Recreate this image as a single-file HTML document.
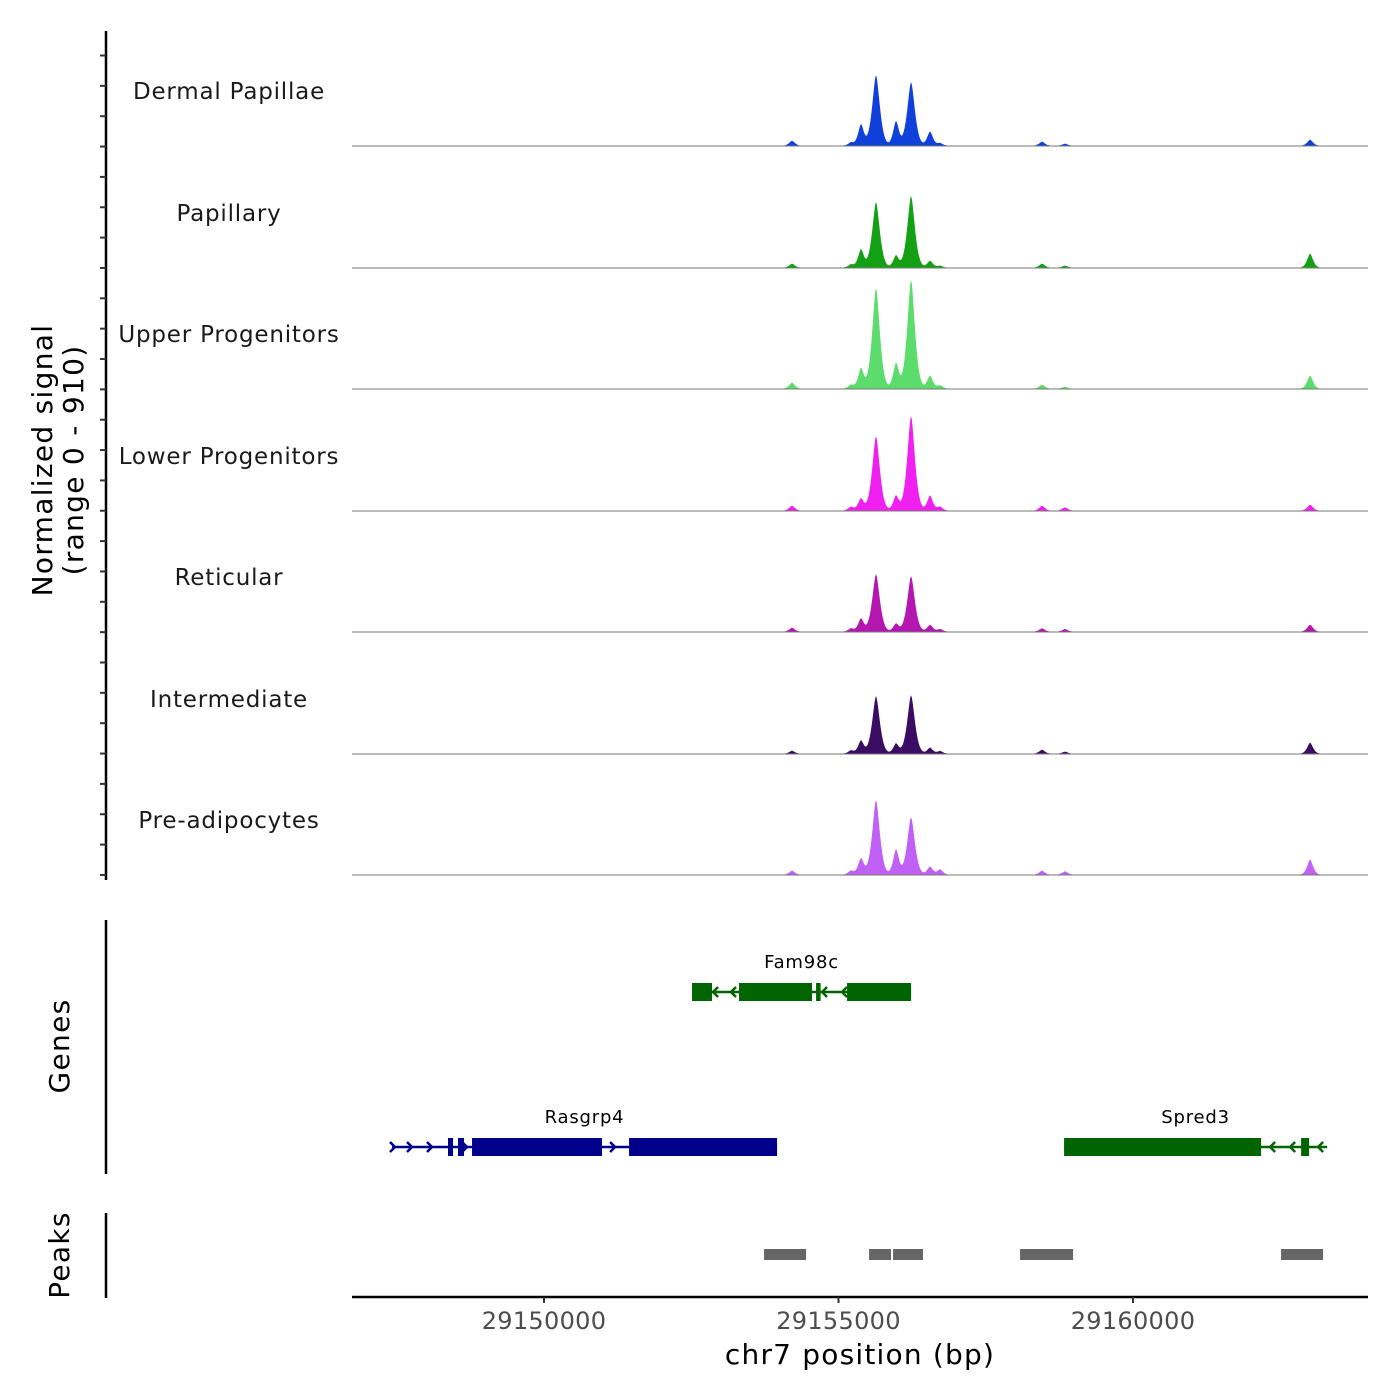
<!DOCTYPE html>
<html><head><meta charset="utf-8"><style>
html,body{margin:0;padding:0;background:#fff;}
svg{display:block;font-family:"DejaVu Sans","Liberation Sans",sans-serif;}
</style></head><body>
<svg id="chart" width="1400" height="1400" viewBox="0 0 1400 1400" xmlns="http://www.w3.org/2000/svg"></svg>
<script>
// ---- data ----
const trackNames = ["Dermal Papillae","Papillary","Upper Progenitors","Lower Progenitors","Reticular","Intermediate","Pre-adipocytes"];
const trackColors = ["#1040dc","#14a014","#5cdc6c","#f020f0","#b416b0","#3a0c62","#c060f4"];
const peakPositions = [29154211,29155213,29155382,29155637,29155977,29156232,29156554,29156724,29158456,29158846,29163007];
const signalDermal = [37,25,157,524,180,472,105,20,30,15,45];
const signalPapillary = [30,25,135,487,90,532,52,15,30,15,105];
const signalUpper = [45,30,150,749,187,809,97,25,30,15,97];
const signalLower = [37,30,90,554,110,704,112,30,37,25,45];
const signalReticular = [30,25,97,427,60,412,52,20,25,20,52];
const signalIntermediate = [22,25,97,427,75,434,45,20,30,15,82];
const signalPreadipo = [30,30,120,554,187,427,60,40,30,25,112];
const trackSignals = [signalDermal,signalPapillary,signalUpper,signalLower,signalReticular,signalIntermediate,signalPreadipo];
const signalMax = 910;
const xTicks = [29150000,29155000,29160000];
const genes = [
  {name:"Fam98c", strand:"-", start:29152513, end:29156232, row:0,
   exons:[[29152513,29152853],[29153311,29154551],[29154619,29154696],[29155145,29156232]],
   arrows:[29152870,29153175,29154721,29155060]},
  {name:"Rasgrp4", strand:"+", start:29147419, end:29153957, row:1,
   exons:[[29148370,29148455],[29148540,29148642],[29148778,29150985],[29151444,29153957]],
   arrows:[29147470,29147759,29148098,29148693,29151206]},
  {name:"Spred3", strand:"-", start:29158830, end:29163296, row:1,
   exons:[[29158830,29162175],[29162854,29162990]],
   arrows:[29162328,29162668,29163143]}
];
const peakStarts = [29153736,29155519,29155926,29158083,29162514];
const peakEnds   = [29154449,29155892,29156435,29158983,29163227];
// ---- scales ----
const X0=352, X1=1368, BP0=29146740, BP1=29163990;
const xs = bp => X0 + (bp-BP0)/(BP1-BP0)*(X1-X0);
const baselines = [146,268,389,511,632,754,875];
const trackH = 121.5;
const ys = (v,i) => baselines[i] - v/signalMax*trackH;
const NS="http://www.w3.org/2000/svg";
const svg=document.getElementById('chart');
function mk(tag,attrs,parent){const e=document.createElementNS(NS,tag);for(const k in attrs)e.setAttribute(k,attrs[k]);(parent||svg).appendChild(e);return e;}
function txt(s,attrs,parent){const e=mk('text',attrs,parent);e.textContent=s;return e;}

// tracks
trackNames.forEach((name,i)=>{
  const g=mk('g',{});
  
  
  const sig=trackSignals[i];
  let d='M'+X0+','+baselines[i];
  for(let px=X0;px<=X1;px+=0.5){
    let v=0;
    peakPositions.forEach((p,k)=>{const dx=Math.abs(px-xs(p));const s=(sig[k]>300)?5.2:4;v+=sig[k]*Math.exp(-Math.pow(dx/s,1.5));});
    d+=' L'+px+','+ys(v,i).toFixed(2);
  }
  d+=' L'+X1+','+baselines[i]+' Z';
  const a=mk('path',{d:d,fill:trackColors[i],stroke:trackColors[i],'stroke-width':0.6},g);
  
  
  const b=mk('line',{x1:X0,x2:X1,y1:baselines[i],y2:baselines[i],stroke:'#777','stroke-width':1},g);
  
  
  const l=txt(name,{x:229,y:baselines[i]-47,'text-anchor':'middle','font-size':23,'letter-spacing':'0.8',fill:'#1a1a1a'},g);
  
  
});

// left axes
const ax=mk('line',{x1:106,x2:106,y1:31,y2:880,stroke:'#000','stroke-width':2.5});


for(let y=55.5;y<880;y+=30.35){
  const t=mk('line',{x1:100,x2:106,y1:y,y2:y,stroke:'#333','stroke-width':2});
  
  
}
const yt=mk('text',{transform:'translate(52,460) rotate(-90)','text-anchor':'middle','font-size':28,'letter-spacing':'1.3',fill:'#000'});


const t1=mk('tspan',{x:0,dy:0},yt);t1.textContent='Normalized signal';
const t2=mk('tspan',{x:0,dy:31},yt);t2.textContent='(range 0 - 910)';

const gax=mk('line',{x1:106,x2:106,y1:920,y2:1174,stroke:'#000','stroke-width':2.5});


const gl=txt('Genes',{transform:'translate(69,1046) rotate(-90)','text-anchor':'middle','font-size':28,'letter-spacing':'1.3',fill:'#000'});


const pax=mk('line',{x1:106,x2:106,y1:1213,y2:1298,stroke:'#000','stroke-width':2.5});


const pl=txt('Peaks',{transform:'translate(69,1255) rotate(-90)','text-anchor':'middle','font-size':28,'letter-spacing':'1.3',fill:'#000'});



// genes
const rowY=[992,1147];
genes.forEach(gn=>{
  const col=gn.strand==='-'?'#006400':'#00008b';
  const y=rowY[gn.row];
  const g=mk('g',{});
  
  
  mk('line',{x1:xs(gn.start),x2:xs(gn.end),y1:y,y2:y,stroke:col,'stroke-width':2.5},g);
  gn.exons.forEach(e=>{
    const r=mk('rect',{x:xs(e[0]),y:y-9,width:Math.max(3,xs(e[1])-xs(e[0])),height:18,fill:col},g);
    
    
  });
  gn.arrows.forEach(a=>{
    const x=xs(a), dx=gn.strand==='-'?-5:5;
    mk('path',{d:`M${x-dx},${y-5} L${x},${y} L${x-dx},${y+5}`,fill:'none',stroke:col,'stroke-width':2.5},g);
  });
  const lb=txt(gn.name,{x:(xs(gn.start)+xs(gn.end))/2,y:y-24,'text-anchor':'middle','font-size':18,'letter-spacing':'0.8',fill:'#000'},g);
  
  
});

// peaks
peakStarts.forEach((s,i)=>{
  const r=mk('rect',{x:xs(s),y:1249,width:xs(peakEnds[i])-xs(s),height:11,fill:'#666'});
  
  
});

// x axis
const xa=mk('line',{x1:X0,x2:X1,y1:1297,y2:1297,stroke:'#000','stroke-width':2.5});


xTicks.forEach(v=>{
  const t=mk('line',{x1:xs(v),x2:xs(v),y1:1297,y2:1303,stroke:'#333','stroke-width':2});
  
  
  const l=txt(String(v),{x:xs(v),y:1329,'text-anchor':'middle','font-size':24,'letter-spacing':'0.3',fill:'#4d4d4d'});
  
  
});
const xt=txt('chr7 position (bp)',{x:860,y:1364,'text-anchor':'middle','font-size':28,'letter-spacing':'1.2',fill:'#000'});


</script>
</body></html>
